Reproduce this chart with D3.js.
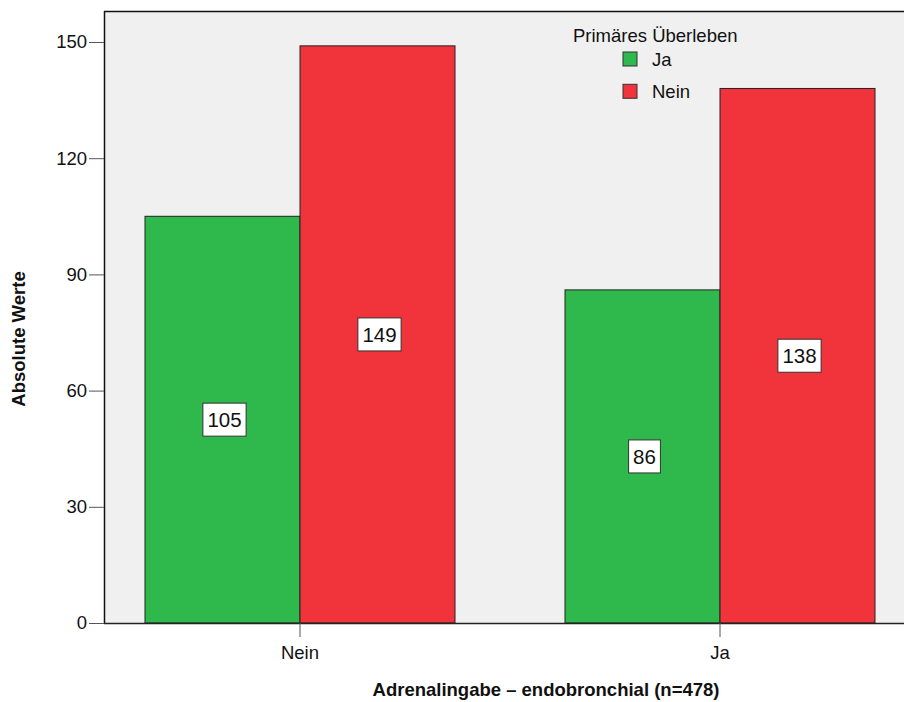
<!DOCTYPE html>
<html>
<head>
<meta charset="utf-8">
<script src="https://cdn.jsdelivr.net/npm/d3@7"></script>
<style>
  html, body { margin: 0; padding: 0; background: #fff; }
  svg { display: block; }
  text { font-family: "Liberation Sans", Arial, sans-serif; fill: #111; }
</style>
</head>
<body>
<svg id="chart" width="904" height="702"></svg>
<script>
// ---- Data ----
const categories = ["Nein", "Ja"];               // Adrenalingabe – endobronchial
const seriesNames = ["Ja", "Nein"];               // Primäres Überleben
const valuesJa = [105, 86];
const valuesNein = [149, 138];
const yTicks = [0, 30, 60, 90, 120, 150];
const colors = { "Ja": "#2fb84c", "Nein": "#f1333c" };

const data = categories.map((c, i) => ({
  cat: c,
  vals: [
    { key: "Ja", value: valuesJa[i] },
    { key: "Nein", value: valuesNein[i] }
  ]
}));

// ---- Layout ----
const svg = d3.select("#chart");
const plot = { left: 104, top: 11, right: 912, bottom: 623 };
const fs = "18.5px";

const y = d3.scaleLinear().domain([0, 158]).range([plot.bottom, plot.top]);
const x0 = d3.scaleBand().domain(categories).range([145, 875]).paddingInner(1 - 310 / 420).paddingOuter(0);
const x1 = d3.scaleBand().domain(seriesNames).range([0, x0.bandwidth()]);

// background
svg.append("rect")
  .attr("x", plot.left).attr("y", plot.top)
  .attr("width", plot.right - plot.left).attr("height", plot.bottom - plot.top)
  .attr("fill", "#f0f0f0");

// bars
const groups = svg.append("g").selectAll("g").data(data).join("g")
  .attr("transform", d => `translate(${x0(d.cat)},0)`);

groups.selectAll("rect").data(d => d.vals).join("rect")
  .attr("x", d => x1(d.key))
  .attr("y", d => y(d.value))
  .attr("width", x1.bandwidth())
  .attr("height", d => y(0) - y(d.value))
  .attr("fill", d => colors[d.key])
  .attr("stroke", "#222")
  .attr("stroke-width", 1);

// value labels
const lab = groups.selectAll("g.lab").data(d => d.vals).join("g")
  .attr("class", "lab")
  .attr("transform", d => `translate(${x1(d.key) + x1.bandwidth() / 2 + 2},${(y(d.value) + y(0)) / 2})`);
lab.append("text")
  .attr("text-anchor", "middle")
  .attr("dy", "0.36em")
  .style("font-size", "20.5px")
  .text(d => d.value)
  .each(function () {
    const bb = this.getBBox();
    d3.select(this.parentNode).insert("rect", "text")
      .attr("x", -bb.width / 2 - 4.5)
      .attr("y", -16.5)
      .attr("width", bb.width + 9)
      .attr("height", 33)
      .attr("fill", "#fff")
      .attr("stroke", "#333")
      .attr("stroke-width", 1);
  });

// frame line (top)
svg.append("line").attr("x1", plot.left).attr("x2", plot.right)
  .attr("y1", plot.top + 0.5).attr("y2", plot.top + 0.5).attr("stroke", "#111").attr("stroke-width", 1.5);

// Y axis
const yAxis = svg.append("g")
  .attr("transform", `translate(${plot.left},0)`)
  .call(d3.axisLeft(y).tickValues(yTicks).tickSize(15).tickPadding(2).tickFormat(d3.format("d")));
yAxis.select(".domain").attr("stroke", "#111").attr("stroke-width", 1.5)
  .attr("d", `M0.5,${plot.top}V${plot.bottom}`);
yAxis.selectAll(".tick line").attr("stroke", "#555");
yAxis.selectAll(".tick text").style("font-size", fs).attr("fill", "#111");

// X axis
const xAxis = svg.append("g")
  .attr("transform", `translate(0,${plot.bottom})`)
  .call(d3.axisBottom(x0).tickSize(14).tickPadding(9));
xAxis.select(".domain").attr("stroke", "#222").attr("stroke-width", 1.5)
  .attr("d", `M${plot.left},0.5H${plot.right}`);
xAxis.selectAll(".tick line").attr("stroke", "#555");
xAxis.selectAll(".tick text").style("font-size", fs).attr("fill", "#111");

// Axis titles
svg.append("text")
  .attr("transform", "translate(25,339) rotate(-90)")
  .attr("text-anchor", "middle")
  .style("font-size", fs).style("font-weight", "bold")
  .text("Absolute Werte");

svg.append("text")
  .attr("x", 546).attr("y", 696)
  .attr("text-anchor", "middle")
  .style("font-size", fs).style("font-weight", "bold")
  .text("Adrenalingabe – endobronchial (n=478)");

// Legend
const legend = svg.append("g");
legend.append("text").attr("x", 573).attr("y", 42).style("font-size", fs).text("Primäres Überleben");
const li = legend.selectAll("g.li").data(seriesNames).join("g")
  .attr("class", "li")
  .attr("transform", (d, i) => `translate(623,${52 + i * 32.3})`);
li.append("rect").attr("width", 14).attr("height", 14)
  .attr("fill", d => colors[d]).attr("stroke", "#333").attr("stroke-width", 1);
li.append("text").attr("x", 29).attr("y", 13.5).style("font-size", fs).text(d => d);
</script>
</body>
</html>
